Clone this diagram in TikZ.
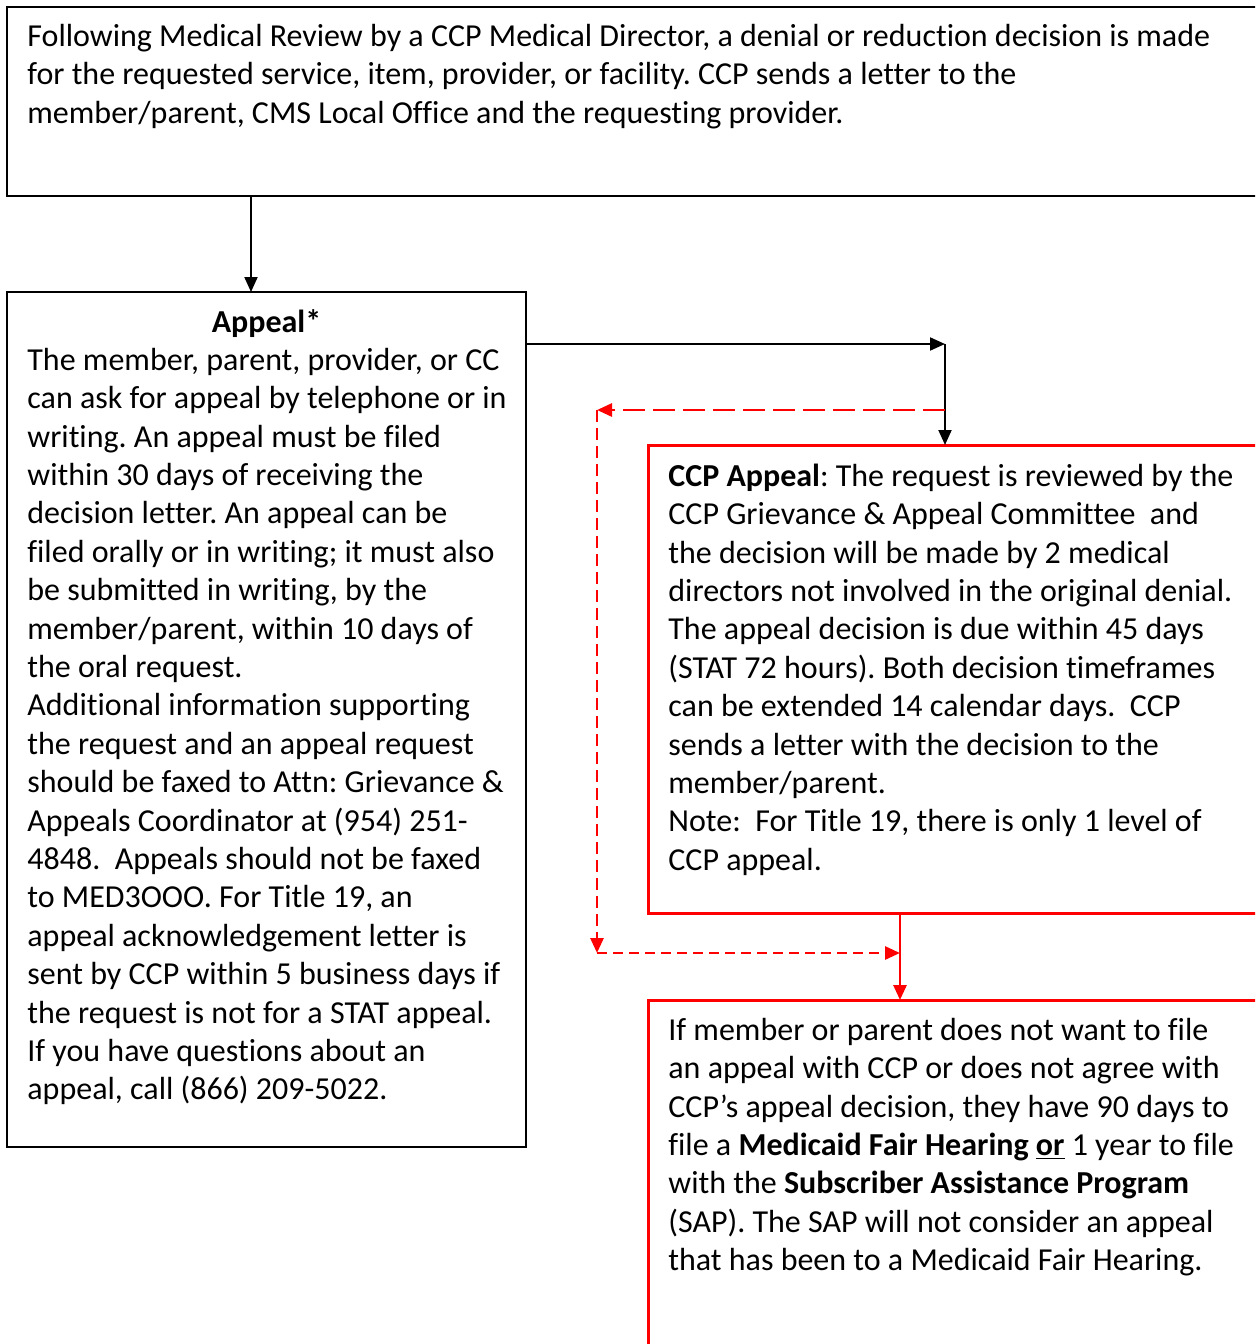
\documentclass[tikz,border=0pt]{standalone}
\usepackage{fontspec}
\setmainfont{Carlito}[Ligatures=NoCommon]
\usepackage{tikz}
\usetikzlibrary{positioning}
\usetikzlibrary{arrows.meta}
\frenchspacing

\begin{document}
\begin{tikzpicture}[x=0.5pt,y=-0.5pt,
    blackbox/.style={draw,line width=1pt,rectangle,inner sep=0pt,outer sep=0pt,anchor=north west},
    redbox/.style={draw=red,line width=1.5pt,rectangle,inner sep=0pt,outer sep=0pt,anchor=north west},
    boxtext/.style={inner sep=0pt,align=left,font=\fontsize{16}{19.2}\selectfont},
    tip/.style={-{Triangle[length=7.5pt,width=6.5pt]}}]
        %    \draw [help lines] (0,0) grid (1255,1344);
        \useasboundingbox (0,0) rectangle (1255,1344);
        \clip (0,0) rectangle (1255,1344);

        \node (a) [blackbox,minimum width=632pt,minimum height=94.5pt] at (7,7) {};
        \node (b) [blackbox,minimum width=259.5pt,minimum height=427.5pt] at (7,292) {};
        \node (c) [redbox,minimum width=312pt,minimum height=234pt] at (648,445) {};
        \node (d) [redbox,minimum width=312pt,minimum height=190pt] at (648,1000) {};

        \node (ta) [boxtext,anchor=north west,below right=6pt and 10pt of a.north west]
            {\strut Following Medical Review by a CCP Medical Director, a denial or reduction decision is made\\
             for the requested service, item, provider, or facility. CCP sends a letter to the\\
             member/parent, CMS Local Office and the requesting provider.};

        \node (tb) [boxtext,anchor=north,below=6.5pt of b.north] {\strut\textbf{Appeal*}};
        \node (tc) [boxtext,anchor=north west,below right=25.5pt and 10pt of b.north west]
            {\strut The member, parent, provider, or CC\\
             can ask for appeal by telephone or in\\
             writing. An appeal must be filed\\
             within 30 days of receiving the\\
             decision letter. An appeal can be\\
             filed orally or in writing; it must also\\
             be submitted in writing, by the\\
             member/parent, within 10 days of\\
             the oral request.\\
             Additional information supporting\\
             the request and an appeal request\\
             should be faxed to Attn: Grievance \&\\
             Appeals Coordinator at (954) 251-\\
             4848.~ Appeals should not be faxed\\
             to MED3OOO. For Title 19, an\\
             appeal acknowledgement letter is\\
             sent by CCP within 5 business days if\\
             the request is not for a STAT appeal.\\
             If you have questions about an\\
             appeal, call (866) 209-5022.};

        \node (td) [boxtext,anchor=north west,below right=7pt and 10pt of c.north west]
            {\strut\textbf{CCP Appeal}: The request is reviewed by the\\
             CCP Grievance \& Appeal Committee~ and\\
             the decision will be made by 2 medical\\
             directors not involved in the original denial.\\
             The appeal decision is due within 45 days\\
             (STAT 72 hours). Both decision timeframes\\
             can be extended 14 calendar days.~ CCP\\
             sends a letter with the decision to the\\
             member/parent.\\
             Note:~ For Title 19, there is only 1 level of\\
             CCP appeal.};

        \node (te) [boxtext,anchor=north west,below right=6.5pt and 10pt of d.north west]
            {\strut If member or parent does not want to file\\
             an appeal with CCP or does not agree with\\
             CCP’s appeal decision, they have 90 days to\\
             file a \textbf{Medicaid Fair Hearing \underline{or}} 1 year to file\\
             with the \textbf{Subscriber Assistance Program}\\
             (SAP). The SAP will not consider an appeal\\
             that has been to a Medicaid Fair Hearing.};

        \coordinate (x) at (251,0);
        \coordinate (turn) at (945,344);
        \coordinate (r) at (945,410);
        \coordinate (l) at (597,410);
        \coordinate (lb) at (597,953);
        \coordinate (drop) at (900,953);

        \draw[line width=1pt,tip] (a.south -| x) -- (b.north -| x);
        \draw[line width=1pt,tip] (b.east |- turn) -- (turn);
        \draw[line width=1pt,tip] (turn) -- (c.north -| turn);

        \draw[red,line width=1.4pt,tip] [dash pattern=on 11pt off 4pt](r) -- (l);
        \draw[red,line width=1.4pt,tip] [dash pattern=on 6pt off 3pt](l) -- (lb);
        \draw[red,line width=1.4pt,tip] [dash pattern=on 5pt off 3pt](lb) -- (drop);
        \draw[red,line width=1.4pt,tip] (c.south -| drop) -- (d.north -| drop);
\end{tikzpicture}
\end{document}
